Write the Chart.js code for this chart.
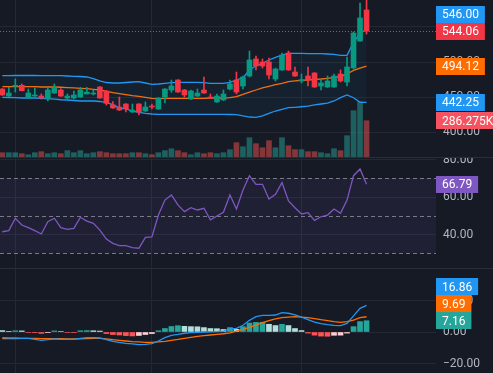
<!DOCTYPE html>
<html>
<head>
<meta charset="utf-8">
<script src="https://cdn.jsdelivr.net/npm/chart.js@4.4.1/dist/chart.umd.min.js"></script>
<style>
  html, body { margin: 0; padding: 0; background: #161a25; }
  #wrap { position: relative; width: 493px; height: 373px; overflow: hidden; background: #161a25; }
  canvas { position: absolute; left: 0; }
  #main { top: 0; }
  #rsi { top: 158px; }
  #macd { top: 269px; }
  .sep { position: absolute; left: 0; width: 493px; height: 1px; background: #2a2e39; }
</style>
</head>
<body>
<div id="wrap">
  <canvas id="main" width="493" height="157"></canvas>
  <div class="sep" style="top:157px"></div>
  <canvas id="rsi" width="493" height="110"></canvas>
  <div class="sep" style="top:268px"></div>
  <canvas id="macd" width="493" height="104"></canvas>
</div>
<script>
// candles
const opens = [461.4, 451.4, 465.3, 466.7, 448.6, 451.4, 451.4, 447.1, 455.7, 460.0,
  448.6, 448.6, 450.0, 454.3, 454.3, 464.3, 458.6, 438.6, 435.7, 440.0,
  428.6, 440.0, 430.0, 436.4, 432.9, 450.0, 460.0, 474.3, 460.0, 447.1,
  451.4, 460.0, 450.0, 442.9, 445.7, 461.4, 474.3, 465.7, 480.0, 504.3,
  500.0, 500.0, 475.7, 488.6, 512.9, 485.7, 472.9, 480.0, 484.3, 465.7,
  464.3, 464.3, 482.9, 471.4, 491.4, 530.0, 574.3];
const highs = [462.1, 463.9, 475.7, 468.6, 461.4, 463.3, 454.3, 463.9, 468.6, 461.9,
  454.3, 458.6, 463.9, 463.9, 460.0, 465.0, 459.3, 443.3, 450.0, 440.7,
  440.0, 440.7, 442.9, 440.0, 449.3, 462.1, 474.3, 475.0, 460.7, 460.0,
  461.4, 478.6, 454.3, 454.3, 460.0, 474.3, 485.7, 480.0, 515.7, 508.6,
  504.3, 505.7, 491.4, 512.9, 515.7, 492.9, 482.9, 492.9, 485.0, 474.3,
  480.0, 482.9, 488.6, 507.1, 542.9, 584.3, 590.0];
const lows = [452.1, 450.7, 457.1, 458.6, 447.9, 450.7, 447.1, 444.3, 455.0, 450.7,
  447.1, 447.1, 449.3, 454.3, 452.9, 447.9, 438.6, 433.6, 430.7, 428.6,
  427.9, 424.3, 429.3, 432.9, 432.1, 441.4, 456.7, 456.4, 450.0, 446.4,
  450.7, 455.0, 447.9, 442.1, 445.0, 460.0, 454.3, 461.4, 478.6, 488.6,
  491.4, 475.7, 472.9, 487.9, 487.9, 479.3, 470.0, 465.7, 463.6, 460.0,
  463.6, 463.6, 471.4, 465.7, 490.0, 529.3, 540.0];
const closes = [452.9, 455.7, 466.7, 459.0, 455.7, 452.9, 448.6, 460.0, 463.3, 451.4,
  451.4, 452.9, 460.0, 457.1, 455.7, 448.6, 441.0, 434.3, 431.4, 432.9,
  431.4, 428.6, 435.7, 435.7, 448.6, 461.4, 465.7, 457.1, 452.9, 458.6,
  455.7, 455.7, 448.6, 451.4, 454.3, 468.6, 457.1, 478.6, 502.9, 494.3,
  494.3, 481.4, 490.0, 510.0, 488.6, 480.0, 474.3, 474.3, 464.3, 470.0,
  472.9, 480.0, 472.9, 492.9, 541.4, 562.9, 544.06];
// volume in thousands
const volumes = [34, 34, 34, 26, 18, 34, 42, 26, 34, 26,
  50, 34, 50, 26, 34, 42, 34, 26, 26, 26,
  34, 34, 26, 18, 34, 50, 65, 50, 34, 18,
  34, 26, 34, 26, 34, 58, 113, 81, 152, 105,
  73, 129, 73, 152, 89, 58, 58, 42, 42, 34,
  26, 65, 50, 168, 365, 436, 286.275];

// bollinger bands
const bbUpper = [480.4, 480.4, 480.7, 480.7, 480.7, 480.7, 480.4, 480.4, 480.4, 480.4,
  480.0, 479.6, 479.3, 478.6, 476.4, 472.9, 470.7, 470.0, 470.0, 470.7,
  471.4, 471.9, 470.0, 468.1, 468.6, 469.6, 470.4, 471.0, 471.0, 471.0,
  471.0, 470.4, 469.6, 469.6, 469.6, 471.0, 474.3, 477.6, 488.6, 494.7,
  498.1, 502.9, 506.7, 510.0, 512.4, 512.4, 512.4, 512.1, 512.1, 511.9,
  511.4, 511.0, 509.6, 509.6, 528.1, 541.0, 546.0];
const bbBasis = [464.7, 464.7, 464.7, 464.7, 464.7, 464.7, 464.3, 464.3, 464.3, 463.9,
  463.3, 462.9, 462.4, 461.9, 461.0, 460.0, 457.9, 456.1, 454.7, 453.3,
  451.9, 451.0, 449.6, 448.1, 447.6, 448.1, 448.1, 448.1, 448.1, 448.1,
  448.1, 448.1, 448.6, 448.6, 448.6, 449.0, 450.4, 453.9, 457.1, 460.0,
  462.9, 465.3, 467.6, 469.6, 471.9, 472.9, 473.9, 474.3, 475.3, 475.7,
  476.7, 478.1, 479.0, 482.9, 488.1, 491.4, 494.12];
const bbLower = [449.6, 449.3, 449.0, 448.6, 448.6, 448.6, 448.1, 447.6, 447.1, 446.1,
  445.7, 445.0, 444.3, 444.3, 444.3, 443.6, 442.1, 439.0, 434.5, 432.9,
  430.0, 428.1, 426.7, 425.7, 425.3, 425.3, 425.3, 425.3, 425.3, 425.3,
  425.3, 425.3, 425.3, 425.3, 425.3, 425.0, 424.7, 422.9, 421.4, 421.0,
  422.9, 426.7, 430.0, 432.4, 434.7, 435.3, 436.1, 437.1, 438.6, 440.0,
  441.4, 444.3, 449.0, 452.9, 449.0, 442.4, 442.25];

// RSI
const rsi = [41.5, 42.1, 48.7, 45.1, 43.7, 42.1, 40.3, 46.9, 48.7, 43.7,
  42.8, 43.3, 49.2, 47.2, 46.0, 42.4, 37.6, 35.3, 34.1, 34.1,
  33.0, 32.7, 38.5, 38.7, 50.4, 58.4, 61.1, 55.8, 52.2, 54.3,
  53.1, 54.0, 47.8, 49.9, 51.9, 61.1, 53.6, 63.8, 71.4, 66.8,
  66.8, 59.0, 61.5, 67.7, 57.9, 54.3, 51.0, 51.7, 47.6, 49.5,
  50.4, 53.6, 51.3, 58.4, 71.4, 75.0, 66.79];
const rsiLevels = [70, 50, 30];

// MACD
const macdLine = [-3.6, -3.8, -3.8, -4.0, -4.0, -4.7, -5.3, -4.9, -4.4, -4.7,
  -4.7, -4.7, -4.0, -3.6, -3.6, -3.8, -4.9, -5.9, -6.6, -7.2,
  -7.6, -8.0, -7.8, -7.4, -5.7, -3.6, -2.1, -1.5, -0.8, -0.4,
  -0.2, 0.0, 0.1, 0.3, 0.6, 2.0, 2.3, 4.3, 7.4, 9.7,
  10.6, 10.6, 10.8, 12.3, 11.9, 10.8, 9.5, 7.8, 6.3, 5.3,
  4.7, 4.2, 4.0, 5.5, 10.2, 15.0, 16.86];
const macdSignal = [-4.2, -4.2, -4.2, -4.1, -4.1, -4.1, -4.2, -4.3, -4.3, -4.3,
  -4.4, -4.4, -4.3, -4.2, -4.1, -4.1, -4.4, -4.9, -5.3, -5.7,
  -6.1, -6.3, -6.6, -6.6, -6.3, -5.9, -5.3, -4.7, -4.0, -3.4,
  -2.8, -2.3, -1.9, -1.5, -1.1, -0.6, 0.6, 1.7, 3.0, 4.4,
  5.9, 7.2, 8.3, 9.1, 9.5, 9.7, 9.5, 9.1, 8.5, 7.8,
  7.2, 6.6, 6.1, 6.6, 7.6, 9.1, 9.69];
const macdHist = [0.9, 0.4, 0.8, 0.7, -0.3, -0.4, -0.9, -0.4, 0.7, 0.3,
  -0.3, -0.4, 0.8, 0.9, 0.8, 0.6, -1.0, -1.6, -1.9, -2.3,
  -2.5, -2.2, -1.6, -1.0, 0.8, 2.2, 3.5, 4.0, 3.6, 3.4,
  3.3, 2.8, 2.2, 2.1, 1.6, 2.8, 1.7, 3.4, 5.7, 6.1,
  6.2, 4.9, 4.1, 4.9, 4.1, 2.2, 0.9, -0.7, -2.0, -2.6,
  -2.7, -2.1, -2.0, -0.7, 3.4, 6.6, 7.16];

// axis ticks
const timeGridIdx = [2, 23, 46];
const priceTicks = [400, 450, 500, 550];
const rsiTicks = [40, 60, 80];
const macdTicks = [-20, 0, 20];

const UP = '#089981', DOWN = '#f23645';
const GRID = '#242835';
const BLUE = '#2196f3', ORANGE = '#ff6d00', PURPLE = '#7e57c2';

Chart.defaults.font.family = 'Roboto';
Chart.defaults.font.size = 12;

const idx = closes.map((_, i) => i);
const last = closes.length - 1;
const isUp = idx.map(i => closes[i] >= opens[i]);
const pts = arr => arr.map((v, i) => ({ x: i, y: v }));
const fmt = v => (v < 0 ? '\u2212' : '') + Math.abs(v).toFixed(2);

function xScale() {
    return {
        type: 'linear',
        min: -0.354,
        max: 66.68,
        offset: false,
        border: { display: false },
        grid: { color: GRID, drawTicks: false, offset: false },
        ticks: { display: false },
        afterBuildTicks: s => { s.ticks = timeGridIdx.map(v => ({ value: v })); }
    };
}

function yScale(min, max, ticks) {
    return {
        type: 'linear',
        position: 'right',
        min: min,
        max: max,
        border: { display: false },
        grid: { color: GRID, drawTicks: false },
        ticks: { color: '#b2b5be', padding: 7, callback: v => fmt(v) },
        afterBuildTicks: s => { s.ticks = ticks.map(v => ({ value: v })); },
        afterFit: s => { s.width = 57; s.paddingTop = 0; s.paddingBottom = 0; }
    };
}

// coloured value labels on the right edge
function tagPlugin(items) {
    return {
        id: 'tags',
        afterDraw(chart) {
            const ctx = chart.ctx;
            const h = 17;
            const placed = [];
            ctx.save();
            ctx.font = '12px Roboto';
            ctx.textBaseline = 'middle';
            items.forEach(t => {
                let y = chart.scales[t.axis].getPixelForValue(t.value);
                let moved = true;
                while (moved) {
                    moved = false;
                    placed.forEach(p => {
                        if (Math.abs(p - y) < h - 0.5) { y = p - h; moved = true; }
                    });
                }
                placed.push(y);
                const x = chart.chartArea.right;
                const w = ctx.measureText(t.text).width + 12;
                ctx.fillStyle = t.color;
                ctx.fillRect(x, Math.round(y - h / 2), w, h);
                ctx.fillStyle = '#ffffff';
                ctx.fillText(t.text, x + 6, Math.round(y) + 0.5);
            });
            ctx.restore();
        }
    };
}

const lastPriceLine = {
    id: 'lastPriceLine',
    beforeDatasetsDraw(chart) {
        const { ctx, chartArea: a } = chart;
        const y = Math.round(chart.scales.y.getPixelForValue(closes[last])) + 0.5;
        ctx.save();
        ctx.strokeStyle = isUp[last] ? UP : DOWN;
        ctx.lineWidth = 1;
        ctx.setLineDash([1, 2]);
        ctx.beginPath();
        ctx.moveTo(a.left, y);
        ctx.lineTo(a.right, y);
        ctx.stroke();
        ctx.restore();
    }
};

const rsiBands = {
    id: 'rsiBands',
    beforeDatasetsDraw(chart) {
        const { ctx, chartArea: a } = chart;
        const y = chart.scales.y;
        const top = y.getPixelForValue(rsiLevels[0]);
        const bot = y.getPixelForValue(rsiLevels[rsiLevels.length - 1]);
        ctx.save();
        ctx.fillStyle = 'rgba(126, 87, 194, 0.1)';
        ctx.fillRect(a.left, top, a.right - a.left, bot - top);
        ctx.strokeStyle = '#787b86';
        ctx.lineWidth = 1;
        ctx.setLineDash([4, 3]);
        rsiLevels.forEach(lv => {
            const yy = Math.round(y.getPixelForValue(lv)) + 0.5;
            ctx.beginPath();
            ctx.moveTo(a.left, yy);
            ctx.lineTo(a.right, yy);
            ctx.stroke();
        });
        ctx.restore();
    }
};

const baseOptions = {
    responsive: false,
    animation: false,
    events: [],
    layout: { padding: 0, autoPadding: false },
    plugins: { legend: { display: false }, tooltip: { enabled: false } }
};

function lineSet(data, color, order) {
    return {
        type: 'line',
        data: pts(data),
        borderColor: color,
        borderWidth: 1.3,
        pointRadius: 0,
        tension: 0,
        fill: false,
        order: order
    };
}

// main pane: candles, bollinger bands, volume
const upperSet = lineSet(bbUpper, BLUE, 2);
upperSet.fill = { target: '+2', above: 'rgba(33, 150, 243, 0.06)', below: 'rgba(33, 150, 243, 0.06)' };

new Chart(document.getElementById('main').getContext('2d'), {
    type: 'bar',
    data: {
        datasets: [
            {
                type: 'bar',
                data: idx.map(i => ({ x: i, y: [opens[i], closes[i]] })),
                backgroundColor: idx.map(i => isUp[i] ? UP : DOWN),
                barThickness: 5,
                minBarLength: 1,
                grouped: false,
                order: 0
            },
            {
                type: 'bar',
                data: idx.map(i => ({ x: i, y: [lows[i], highs[i]] })),
                backgroundColor: idx.map(i => isUp[i] ? UP : DOWN),
                barThickness: 1,
                grouped: false,
                order: 1
            },
            upperSet,
            lineSet(bbBasis, ORANGE, 2),
            lineSet(bbLower, BLUE, 2),
            {
                type: 'bar',
                yAxisID: 'vol',
                data: pts(volumes),
                backgroundColor: idx.map(i => isUp[i] ? 'rgba(38, 166, 154, 0.5)' : 'rgba(239, 83, 80, 0.5)'),
                barThickness: 5,
                grouped: false,
                order: 5
            }
        ]
    },
    options: {
        ...baseOptions,
        scales: {
            x: xScale(),
            y: yScale(364.29, 588.57, priceTicks),
            vol: { display: false, min: 0, max: 1238 }
        }
    },
    plugins: [lastPriceLine, tagPlugin([
        { axis: 'y', value: closes[last], text: closes[last].toFixed(2), color: isUp[last] ? UP : DOWN },
        { axis: 'vol', value: volumes[last], text: volumes[last].toFixed(3) + 'K', color: isUp[last] ? '#22ab94' : '#f7525f' },
        { axis: 'y', value: bbBasis[last], text: bbBasis[last].toFixed(2), color: ORANGE },
        { axis: 'y', value: bbUpper[last], text: bbUpper[last].toFixed(2), color: BLUE },
        { axis: 'y', value: bbLower[last], text: bbLower[last].toFixed(2), color: BLUE }
    ])]
});

// RSI pane
new Chart(document.getElementById('rsi').getContext('2d'), {
    type: 'line',
    data: { datasets: [lineSet(rsi, PURPLE, 0)] },
    options: {
        ...baseOptions,
        scales: {
            x: xScale(),
            y: yScale(22.16, 80.83, rsiTicks)
        }
    },
    plugins: [rsiBands, tagPlugin([
        { axis: 'y', value: rsi[last], text: rsi[last].toFixed(2), color: PURPLE }
    ])]
});

// MACD pane
const histColors = macdHist.map((h, i) => {
    const prev = i > 0 ? macdHist[i - 1] : h;
    if (h >= 0) return h > prev ? '#26a69a' : '#b2dfdb';
    return h < prev ? '#ff5252' : '#ffcdd2';
});

new Chart(document.getElementById('macd').getContext('2d'), {
    type: 'bar',
    data: {
        datasets: [
            {
                type: 'bar',
                data: pts(macdHist),
                backgroundColor: histColors,
                barThickness: 5,
                grouped: false,
                order: 3
            },
            lineSet(macdLine, BLUE, 0),
            lineSet(macdSignal, ORANGE, 1)
        ]
    },
    options: {
        ...baseOptions,
        scales: {
            x: xScale(),
            y: yScale(-26.03, 40, macdTicks)
        }
    },
    plugins: [tagPlugin([
        { axis: 'y', value: macdHist[last], text: macdHist[last].toFixed(2), color: '#26a69a' },
        { axis: 'y', value: macdSignal[last], text: macdSignal[last].toFixed(2), color: ORANGE },
        { axis: 'y', value: macdLine[last], text: macdLine[last].toFixed(2), color: BLUE }
    ])]
});
</script>
</body>
</html>
